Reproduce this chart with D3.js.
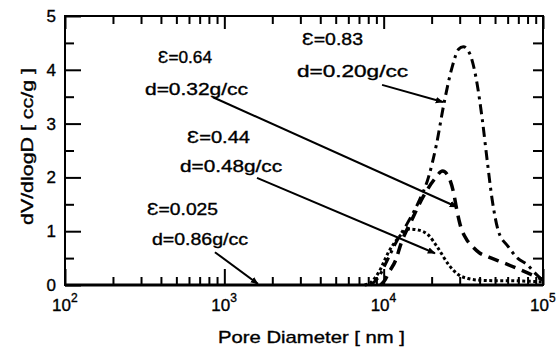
<!DOCTYPE html>
<html>
<head>
<meta charset="utf-8">
<script src="https://cdn.jsdelivr.net/npm/d3@7"></script>
<style>
  body { margin: 0; background: #fff; }
  text { font-family: "Liberation Sans", Arial, Helvetica, sans-serif; fill: #000; stroke: #000; stroke-width: 0.35; }
</style>
</head>
<body>
<div class="chart"></div>
<script>
// pore diameter [nm] / dV/dlogD [cc/g]
var diam083 = [8300, 9300, 10500, 12000, 14100, 16600, 19100, 21400, 24000, 26900, 29500, 31600, 34700, 38000, 41700, 44700, 47900, 52500, 60300, 69200, 79400, 89100, 100000];
var val083  = [0, 0.15, 0.45, 0.8, 1.15, 1.55, 2.0, 2.6, 3.4, 4.05, 4.38, 4.43, 4.3, 3.85, 3.05, 2.3, 1.6, 1.0, 0.72, 0.5, 0.38, 0.22, 0.08];

var diam064 = [9550, 10230, 10720, 11890, 12880, 14960, 17780, 20890, 23440, 25120, 27540, 28840, 30200, 33110, 35480, 39810, 45710, 52480, 60260, 72440, 85110, 100000];
var val064  = [0, 0.1, 0.22, 0.46, 0.78, 1.2, 1.65, 1.97, 2.12, 2.05, 1.7, 1.38, 1.12, 0.85, 0.74, 0.6, 0.52, 0.45, 0.38, 0.28, 0.19, 0.1];

var diam044 = [7590, 8320, 9330, 10720, 12300, 14450, 16600, 19050, 21880, 25700, 29510, 33880, 39810, 50120, 63100, 79430, 100000];
var val044  = [0, 0.05, 0.24, 0.61, 0.87, 1.04, 1.02, 0.93, 0.69, 0.37, 0.19, 0.12, 0.09, 0.08, 0.08, 0.07, 0.06];

var diam0025 = [100, 1000, 10000, 100000];
var val0025  = [0, 0, 0, 0];

var porosityLabels = ["\u0190=0.83", "\u0190=0.64", "\u0190=0.44", "\u0190=0.025"];
var densityLabels  = ["d=0.20g/cc", "d=0.32g/cc", "d=0.48g/cc", "d=0.86g/cc"];

// arrow from label to curve: [diam, value] start and end
var arrowFrom = [[9770, 3.72], [849, 3.49], [1603, 1.99], [873, 0.61]];
var arrowTo   = [[23550, 3.40], [28840, 1.45], [20990, 0.59], [1626, 0.02]];

var xMajor = [100, 1000, 10000, 100000];
var xExp = ["2", "3", "4", "5"];
var yTicks = [0, 1, 2, 3, 4, 5];

(function () {
  var width = 558, height = 350;
  var pLeft = 65, pRight = 543, pTop = 16, pBottom = 285;

  var svg = d3.select(".chart")
    .append("svg")
    .attr("width", width)
    .attr("height", height);

  var x = d3.scaleLog().domain([100, 100000]).range([pLeft, pRight]);
  var y = d3.scaleLinear().domain([0, 5]).range([pBottom, pTop]);

  svg.append("defs").append("marker")
    .attr("id", "head")
    .attr("viewBox", "0 0 10 10")
    .attr("refX", 9).attr("refY", 5)
    .attr("markerWidth", 4).attr("markerHeight", 4)
    .attr("orient", "auto")
    .append("path")
    .attr("d", "M0,1 L10,5 L0,9 z")
    .attr("fill", "#000");

  // ticks (all inward)
  var xMinor = x.ticks().filter(function (d) { return xMajor.indexOf(d) < 0; });
  var yMinor = d3.range(0.5, 5, 1);
  var yHalf = d3.range(0.5, 5, 0.5);

  function tickGroup(axis, tx, ty) {
    var g = svg.append("g").attr("transform", "translate(" + tx + "," + ty + ")").call(axis);
    g.select(".domain").remove();
    g.selectAll("text").remove();
    g.selectAll("line").attr("stroke", "#000").attr("stroke-width", 2);
    return g;
  }

  tickGroup(d3.axisBottom(x).tickValues(xMinor).tickSizeInner(-8).tickSizeOuter(0), 0, pBottom);
  tickGroup(d3.axisBottom(x).tickValues(xMajor).tickSizeInner(-16).tickSizeOuter(0), 0, pBottom);
  tickGroup(d3.axisTop(x).tickValues(xMinor).tickSizeInner(-8).tickSizeOuter(0), 0, pTop);
  tickGroup(d3.axisTop(x).tickValues(xMajor).tickSizeInner(-13).tickSizeOuter(0), 0, pTop);
  tickGroup(d3.axisLeft(y).tickValues(yMinor).tickSizeInner(-9).tickSizeOuter(0), pLeft, 0);
  tickGroup(d3.axisLeft(y).tickValues(yTicks).tickSizeInner(-16).tickSizeOuter(0), pLeft, 0);
  tickGroup(d3.axisRight(y).tickValues(yHalf).tickSizeInner(-10).tickSizeOuter(0), pRight, 0);

  // frame
  svg.append("rect")
    .attr("x", pLeft).attr("y", pTop)
    .attr("width", pRight - pLeft).attr("height", pBottom - pTop)
    .attr("fill", "none").attr("stroke", "#000").attr("stroke-width", 2);

  // y tick labels
  svg.selectAll(".ylab")
    .data(yTicks)
    .enter().append("text")
    .attr("x", 56)
    .attr("y", function (d) { return y(d) + 6; })
    .attr("text-anchor", "end")
    .attr("font-size", 17)
    .text(function (d) { return d; });

  // x tick labels 10^n
  var xl = svg.selectAll(".xlab")
    .data(xMajor)
    .enter().append("text")
    .attr("x", function (d) { return x(d) - 13; })
    .attr("y", 311)
    .attr("font-size", 17);
  xl.append("tspan").text("10");
  xl.append("tspan")
    .attr("dy", -9)
    .attr("font-size", 12)
    .text(function (d, i) { return xExp[i]; });

  // axis titles
  svg.append("text")
    .attr("x", 218).attr("y", 343)
    .attr("font-size", 17)
    .attr("textLength", 187)
    .attr("lengthAdjust", "spacingAndGlyphs")
    .text("Pore Diameter  [ nm ]");

  svg.append("text")
    .attr("transform", "translate(33,225) rotate(-90)")
    .attr("font-size", 17)
    .attr("textLength", 157)
    .attr("lengthAdjust", "spacingAndGlyphs")
    .text("dV/dlogD  [ cc/g ]");

  // curves
  var line = d3.line()
    .x(function (d) { return x(d[0]); })
    .y(function (d) { return y(d[1]); })
    .curve(d3.curveMonotoneX);

  function pairs(a, b) { return a.map(function (d, i) { return [d, b[i]]; }); }

  svg.append("path").datum(pairs(diam0025, val0025))
    .attr("d", line).attr("fill", "none").attr("stroke", "#000").attr("stroke-width", 3);

  svg.append("path").datum(pairs(diam044, val044))
    .attr("d", line).attr("fill", "none").attr("stroke", "#000")
    .attr("stroke-width", 3).attr("stroke-dasharray", "3,2.5");

  svg.append("path").datum(pairs(diam064, val064))
    .attr("d", line).attr("fill", "none").attr("stroke", "#000")
    .attr("stroke-width", 3.5).attr("stroke-dasharray", "11,7");

  svg.append("path").datum(pairs(diam083, val083))
    .attr("d", line).attr("fill", "none").attr("stroke", "#000")
    .attr("stroke-width", 3).attr("stroke-dasharray", "10,5,3,5");

  // arrows
  svg.selectAll(".arrow")
    .data(arrowFrom)
    .enter().append("line")
    .attr("x1", function (d) { return x(d[0]); })
    .attr("y1", function (d) { return y(d[1]); })
    .attr("x2", function (d, i) { return x(arrowTo[i][0]); })
    .attr("y2", function (d, i) { return y(arrowTo[i][1]); })
    .attr("stroke", "#000").attr("stroke-width", 2)
    .attr("marker-end", "url(#head)");

  // labels: [x, baseline, width]
  var epsPos = [[302, 45, 61], [158, 63, 54], [187, 143, 63], [147, 215, 71]];
  var dPos = [[297, 77, 111], [145, 95, 103], [180, 172, 102], [152, 245, 96]];

  svg.selectAll(".eps")
    .data(porosityLabels)
    .enter().append("text")
    .attr("x", function (d, i) { return epsPos[i][0]; })
    .attr("y", function (d, i) { return epsPos[i][1]; })
    .attr("textLength", function (d, i) { return epsPos[i][2]; })
    .attr("lengthAdjust", "spacingAndGlyphs")
    .attr("font-size", 16)
    .text(function (d) { return d; });

  svg.selectAll(".dens")
    .data(densityLabels)
    .enter().append("text")
    .attr("x", function (d, i) { return dPos[i][0]; })
    .attr("y", function (d, i) { return dPos[i][1]; })
    .attr("textLength", function (d, i) { return dPos[i][2]; })
    .attr("lengthAdjust", "spacingAndGlyphs")
    .attr("font-size", 16)
    .text(function (d) { return d; });
})();
</script>
</body>
</html>
